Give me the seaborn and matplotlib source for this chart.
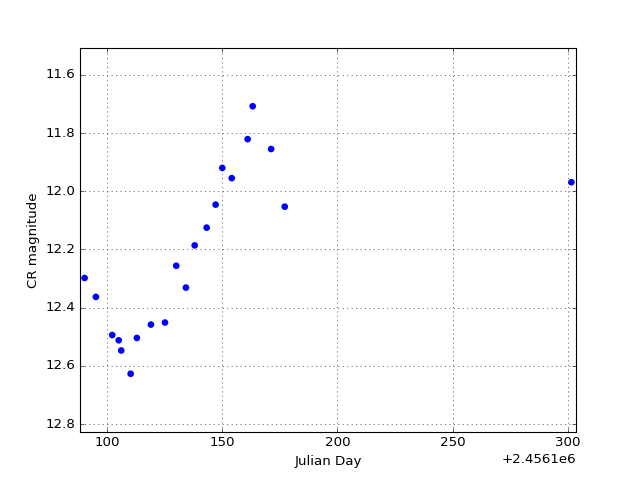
"""Кривая блеска: CR-звёздная величина по юлианским дням."""

import matplotlib

matplotlib.use("Agg")
import matplotlib.pyplot as plt  # noqa: E402
import numpy as np  # noqa: E402
import pandas as pd  # noqa: E402
import seaborn as sns  # noqa: E402

plt.style.use("classic")

JD_OFFSET = 2456100.0
jd_days = [90.2, 95.1, 102.2, 105.0, 106.1, 110.2, 112.9, 119.0, 125.1, 130.0,
           134.2, 138.0, 143.2, 147.1, 150.0, 154.1, 161.0, 163.2, 171.2, 177.1,
           301.6]
cr_mag = [12.298, 12.363, 12.494, 12.512, 12.547, 12.627, 12.504, 12.458, 12.451, 12.256,
          12.331, 12.186, 12.125, 12.046, 11.920, 11.955, 11.821, 11.708, 11.855, 12.053,
          11.969]

df = pd.DataFrame({"jd": np.array(jd_days) + JD_OFFSET, "mag": cr_mag})

fig = plt.figure(figsize=(8, 6), dpi=80, facecolor="white")
ax = fig.add_subplot(111)
sns.scatterplot(data=df, x="jd", y="mag", color="blue", s=36, edgecolor="none", ax=ax)

ax.set_xlim(df["jd"].min() - 2, df["jd"].max() + 2)
ax.set_ylim(df["mag"].max() + 0.2, df["mag"].min() - 0.2)
ax.xaxis.get_major_formatter().set_useOffset(JD_OFFSET)
ax.grid(True)
ax.set_xlabel("Julian Day")
ax.set_ylabel("CR magnitude")

fig.savefig("out.png", dpi=80, facecolor="white")
plt.close(fig)
